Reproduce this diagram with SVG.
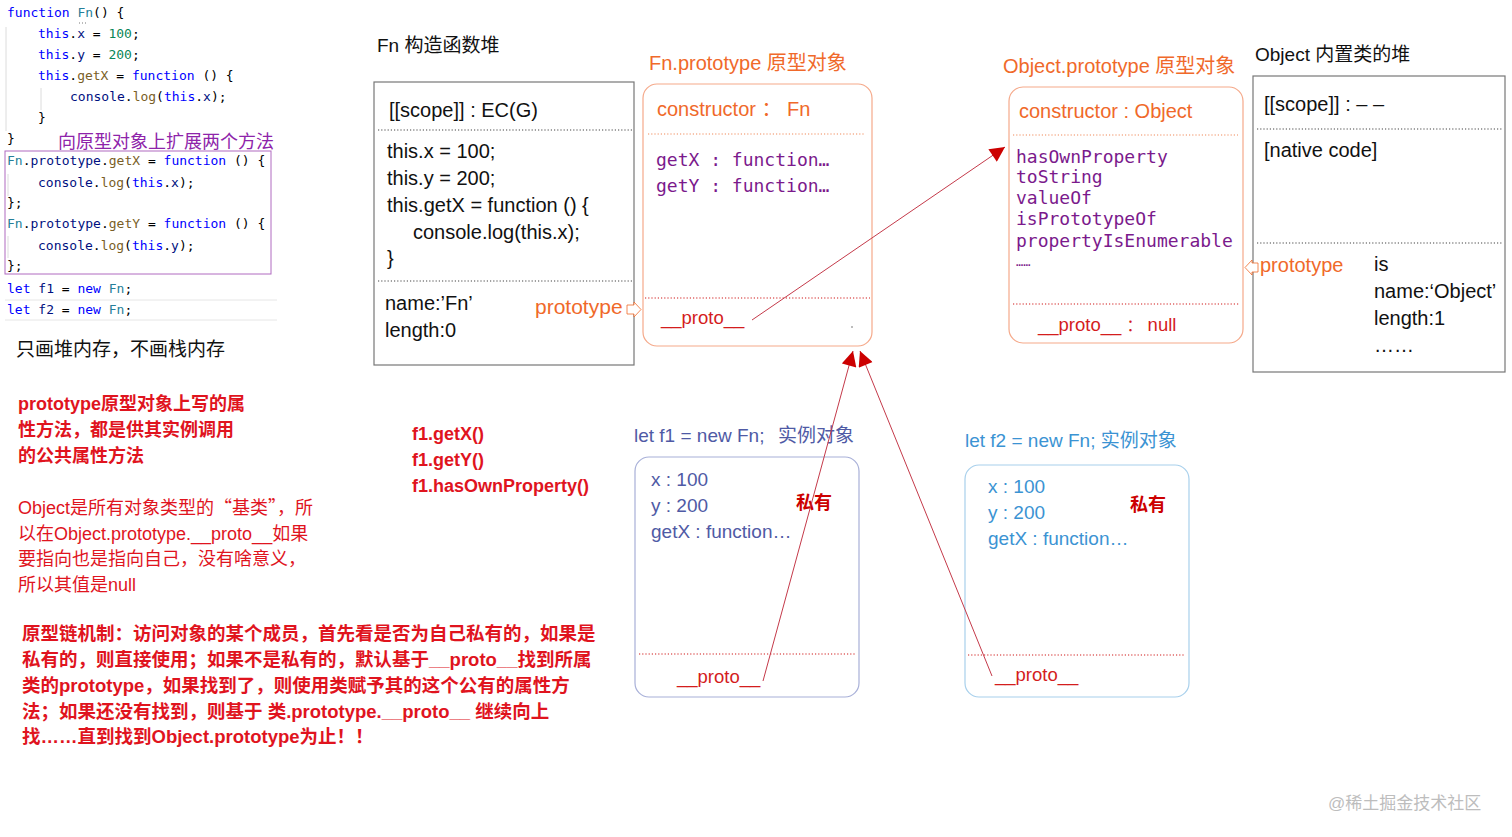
<svg xmlns="http://www.w3.org/2000/svg" width="1512" height="837" viewBox="0 0 1512 837">
<defs>
<style>
.mono{font-family:"DejaVu Sans Mono","Liberation Mono",monospace;}
.code{font-size:13px;fill:#000;}
.kw{fill:#0000ff;}
.cls{fill:#267f99;}
.num{fill:#098658;}
.fn{fill:#795e26;}
.var{fill:#001080;}
.sans{font-family:"Liberation Sans","Noto Sans CJK SC",sans-serif;}
.cjk{font-family:"Noto Sans CJK SC",sans-serif;}
.blk{fill:#111;font-size:20px;}
.org{fill:#f0692a;font-size:20px;}
.pur{fill:#7b1a8c;font-size:18px;}
.red{fill:#d41d1d;font-size:18.5px;}
.note{fill:#e0141e;font-size:18px;}
.b{font-weight:bold;}
.dotk{stroke:#444;stroke-width:1.2;stroke-dasharray:1.2 2;fill:none;}
.doto{stroke:#f08a5a;stroke-width:1.2;stroke-dasharray:1.2 2;fill:none;}
.dotr{stroke:#d01a1a;stroke-width:1.2;stroke-dasharray:1.2 2;fill:none;}
.guide{stroke:#dcdcdc;stroke-width:1;}
.i1{fill:#4f5aa5;font-size:19px;}
.i2{fill:#3b93d3;font-size:19px;}
</style>
<marker id="ah" viewBox="0 0 10 10" refX="10" refY="5" markerWidth="17" markerHeight="15" markerUnits="userSpaceOnUse" orient="auto">
<path d="M0,0 L10,5 L0,10 z" fill="#cc0000"/>
</marker>
</defs>
<rect width="1512" height="837" fill="#fff"/>

<g id="code" class="mono code">
<line class="guide" x1="6" y1="27" x2="6" y2="131"/>
<line class="guide" x1="41" y1="88" x2="41" y2="110"/>
<text x="7" y="17"><tspan class="kw">function</tspan> <tspan class="cls">Fn</tspan>() {</text>
<path d="M79,23 h1 M82,23 h1 M85,23 h1" stroke="#777" stroke-width="1"/>
<text x="38" y="38"><tspan class="kw">this</tspan>.<tspan class="var">x</tspan> = <tspan class="num">100</tspan>;</text>
<text x="38" y="59"><tspan class="kw">this</tspan>.<tspan class="var">y</tspan> = <tspan class="num">200</tspan>;</text>
<text x="38" y="80"><tspan class="kw">this</tspan>.<tspan class="fn">getX</tspan> = <tspan class="kw">function</tspan> () {</text>
<text x="70" y="101"><tspan class="var">console</tspan>.<tspan class="fn">log</tspan>(<tspan class="kw">this</tspan>.<tspan class="var">x</tspan>);</text>
<text x="38" y="122">}</text>
<text x="7" y="143">}</text>
<text class="sans" x="58" y="148" style="font-size:18px;fill:#8e24aa;">向原型对象上扩展两个方法</text>
<rect x="5" y="151" width="266" height="123" fill="none" stroke="#b06ac0" stroke-width="1"/>
<line class="guide" x1="8" y1="174" x2="8" y2="196"/>
<line class="guide" x1="8" y1="236" x2="8" y2="258"/>
<text x="7" y="165"><tspan class="cls">Fn</tspan>.<tspan class="var">prototype</tspan>.<tspan class="fn">getX</tspan> = <tspan class="kw">function</tspan> () {</text>
<text x="38" y="187"><tspan class="var">console</tspan>.<tspan class="fn">log</tspan>(<tspan class="kw">this</tspan>.<tspan class="var">x</tspan>);</text>
<text x="7" y="207">};</text>
<text x="7" y="228"><tspan class="cls">Fn</tspan>.<tspan class="var">prototype</tspan>.<tspan class="fn">getY</tspan> = <tspan class="kw">function</tspan> () {</text>
<text x="38" y="250"><tspan class="var">console</tspan>.<tspan class="fn">log</tspan>(<tspan class="kw">this</tspan>.<tspan class="var">y</tspan>);</text>
<text x="7" y="270">};</text>
<text x="7" y="293"><tspan class="kw">let</tspan> <tspan class="var">f1</tspan> = <tspan class="kw">new</tspan> <tspan class="cls">Fn</tspan>;</text>
<line x1="5" y1="300" x2="277" y2="300" stroke="#e6e6e6"/>
<text x="7" y="314"><tspan class="kw">let</tspan> <tspan class="var">f2</tspan> = <tspan class="kw">new</tspan> <tspan class="cls">Fn</tspan>;</text>
<line x1="5" y1="320" x2="277" y2="320" stroke="#e6e6e6"/>
</g>

<g id="notes" class="sans">
<text x="16" y="356" style="font-size:19px;fill:#111;">只画堆内存，不画栈内存</text>
<text class="note b" x="18" y="410">prototype原型对象上写的属</text>
<text class="note b" x="18" y="436">性方法，都是供其实例调用</text>
<text class="note b" x="18" y="462">的公共属性方法</text>
<text class="note" x="18" y="514">Object是所有对象类型的<tspan class="cjk">“</tspan>基类<tspan class="cjk">”</tspan>，所</text>
<text class="note" x="18" y="540">以在Object.prototype.__proto__如果</text>
<text class="note" x="18" y="565">要指向也是指向自己，没有啥意义，</text>
<text class="note" x="18" y="591">所以其值是null</text>
<text class="note b" x="412" y="440">f1.getX()</text>
<text class="note b" x="412" y="466">f1.getY()</text>
<text class="note b" x="412" y="492">f1.hasOwnProperty()</text>
<g class="note b" style="font-size:18.5px;">
<text x="22" y="640">原型链机制：访问对象的某个成员，首先看是否为自己私有的，如果是</text>
<text x="22" y="666">私有的，则直接使用；如果不是私有的，默认基于__proto__找到所属</text>
<text x="22" y="692">类的prototype，如果找到了，则使用类赋予其的这个公有的属性方</text>
<text x="22" y="718">法；如果还没有找到，则基于 类.prototype.__proto__ 继续向上</text>
<text x="22" y="743">找……直到找到Object.prototype为止！！</text>
</g>
<text x="1328" y="809" style="font-size:17px;fill:#bdbdbd;">@稀土掘金技术社区</text>
</g>

<g id="fn-heap" class="sans">
<text x="377" y="52" style="font-size:19px;fill:#111;">Fn 构造函数堆</text>
<rect x="374" y="82" width="260" height="283" fill="none" stroke="#777" stroke-width="1.2"/>
<line class="dotk" x1="378" y1="130" x2="632" y2="130"/>
<line class="dotk" x1="378" y1="281" x2="632" y2="281"/>
<text class="blk" x="389" y="117">[[scope]] : EC(G)</text>
<text class="blk" x="387" y="158">this.x = 100;</text>
<text class="blk" x="387" y="185">this.y = 200;</text>
<text class="blk" x="387" y="212">this.getX = function () {</text>
<text class="blk" x="413" y="239">console.log(this.x);</text>
<text class="blk" x="387" y="265">}</text>
<text class="blk" x="385" y="310">name:’Fn’</text>
<text class="blk" x="385" y="337">length:0</text>
<text class="org" x="535" y="314" style="font-size:21px;">prototype</text>
<path d="M627,305 h7 v-3 l7,7.5 l-7,7.5 v-3 h-7 z" fill="#fff" stroke="#f0692a" stroke-width="0.8"/>
</g>

<g id="fn-prototype" class="sans">
<text class="org" x="649" y="70">Fn.prototype 原型对象</text>
<rect x="643" y="84" width="229" height="262" rx="14" fill="none" stroke="#f5a98a" stroke-width="1.2"/>
<text class="org" x="657" y="116">constructor ： Fn</text>
<line class="doto" x1="648" y1="134" x2="864" y2="134"/>
<text class="mono pur" x="656" y="166">getX : function…</text>
<text class="mono pur" x="656" y="192">getY : function…</text>
<line class="dotr" x1="645" y1="298" x2="870" y2="298"/>
<text class="red" x="661" y="324">__proto__</text>
<circle cx="852" cy="327" r="0.8" fill="#666"/>
</g>

<g id="object-prototype" class="sans">
<text class="org" x="1003" y="73">Object.prototype 原型对象</text>
<rect x="1009" y="87" width="234" height="256" rx="14" fill="none" stroke="#f5a98a" stroke-width="1.2"/>
<text class="org" x="1019" y="118">constructor : Object</text>
<line class="doto" x1="1013" y1="135" x2="1238" y2="135"/>
<text class="mono pur" x="1016" y="163">hasOwnProperty</text>
<text class="mono pur" x="1016" y="183">toString</text>
<text class="mono pur" x="1016" y="204">valueOf</text>
<text class="mono pur" x="1016" y="225">isPrototypeOf</text>
<text class="mono pur" x="1016" y="247">propertyIsEnumerable</text>
<text class="mono pur" x="1016" y="266" style="font-size:12px;">……</text>
<line class="dotr" x1="1013" y1="304" x2="1240" y2="304"/>
<text class="red" x="1038" y="331">__proto__ <tspan font-size="16">：</tspan> null</text>
</g>

<g id="object-heap" class="sans">
<text x="1255" y="61" style="font-size:19px;fill:#111;">Object 内置类的堆</text>
<rect x="1253" y="76" width="252" height="296" fill="none" stroke="#777" stroke-width="1.2"/>
<line class="dotk" x1="1257" y1="129" x2="1502" y2="129"/>
<line class="dotk" x1="1257" y1="243" x2="1502" y2="243"/>
<text class="blk" x="1264" y="111">[[scope]] : – –</text>
<text class="blk" x="1264" y="157">[native code]</text>
<path d="M1258,263 h-6 v-3 l-7,7.5 l7,7.5 v-3 h6 z" fill="#fff" stroke="#f0692a" stroke-width="0.8"/>
<text class="org" x="1260" y="272">prototype</text>
<text class="blk" x="1374" y="271">is</text>
<text class="blk" x="1374" y="298">name:‘Object’</text>
<text class="blk" x="1374" y="325">length:1</text>
<text class="blk" x="1374" y="352">……</text>
</g>

<g id="f1" class="sans">
<text class="i1" x="634" y="442">let f1 = new Fn;<tspan x="778">实例对象</tspan></text>
<rect x="635" y="457" width="224" height="240" rx="14" fill="none" stroke="#a8b0d8" stroke-width="1.2"/>
<text class="i1" x="651" y="486">x : 100</text>
<text class="i1" x="651" y="512">y : 200</text>
<text class="i1" x="651" y="538">getX : function…</text>
<text class="b" x="796" y="509" style="font-size:18px;fill:#cc0000;">私有</text>
<line class="dotr" x1="639" y1="654" x2="855" y2="654"/>
<text class="red" x="677" y="683">__proto__</text>
</g>

<g id="f2" class="sans">
<text class="i2" x="965" y="447">let f2 = new Fn; 实例对象</text>
<rect x="965" y="465" width="224" height="232" rx="14" fill="none" stroke="#a8d0ec" stroke-width="1.2"/>
<text class="i2" x="988" y="493">x : 100</text>
<text class="i2" x="988" y="519">y : 200</text>
<text class="i2" x="988" y="545">getX : function…</text>
<text class="b" x="1130" y="511" style="font-size:18px;fill:#cc0000;">私有</text>
<line class="dotr" x1="968" y1="655" x2="1184" y2="655"/>
<text class="red" x="995" y="681">__proto__</text>
</g>

<g id="connectors" stroke="#c43a4a" stroke-width="1" fill="none">
<line x1="752" y1="320" x2="1005" y2="147" marker-end="url(#ah)"/>
<line x1="763" y1="681" x2="853" y2="351" marker-end="url(#ah)"/>
<line x1="992" y1="676" x2="860" y2="351" marker-end="url(#ah)"/>
</g>
</svg>
